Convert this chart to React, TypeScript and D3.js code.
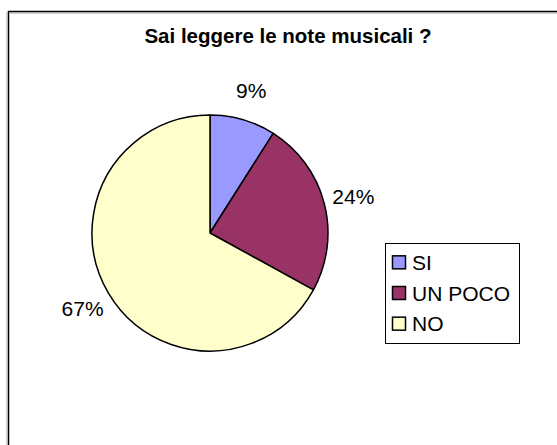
import React from "react";
import * as d3 from "d3";

const categories = ["SI", "UN POCO", "NO"];
const values = [9, 24, 67];
const labels = ["9%", "24%", "67%"];
const colors = ["#9999FF", "#993366", "#FFFFCC"];
const title = "Sai leggere le note musicali ?";

const W = 557;
const H = 445;
const FONT = "'Liberation Sans', Arial, sans-serif";

export default function App() {
  const cx = 210;
  const cy = 233;
  const r = 118;
  const labelR = 148;

  const pie = d3.pie<number>().sort(null).startAngle(0).endAngle(2 * Math.PI);
  const arcs = pie(values);
  const arc = d3.arc<d3.PieArcDatum<number>>().innerRadius(0).outerRadius(r);
  const labelArc = d3.arc<d3.PieArcDatum<number>>().innerRadius(labelR).outerRadius(labelR);

  const legendX = 385;
  const legendY = 243;
  const legendW = 134;
  const legendH = 100;
  const itemY = d3.scaleBand<string>().domain(categories).range([legendY + 4, legendY + legendH - 4]).paddingInner(0);

  return (
    <svg
      width={W}
      height={H}
      style={{ position: "absolute", left: 0, top: 0, background: "#fff" }}
      fontFamily={FONT}
    >
      <rect x={0} y={0} width={W} height={H} fill="#fff" />
      {/* chart area border, extends beyond the picture */}
      <rect x={8.5} y={11.5} width={700} height={600} fill="none" stroke="#000" strokeWidth={1.5} />
      <line x1={10} y1={13} x2={W} y2={13} stroke="#999" strokeWidth={1} />
      <line x1={7} y1={12} x2={7} y2={H} stroke="#aaa" strokeWidth={1} />

      <text x={288} y={43} textAnchor="middle" fontWeight="bold" fontSize={20.5} fill="#000">
        {title}
      </text>

      <g transform={`translate(${cx},${cy})`}>
        {arcs.map((a, i) => (
          <path key={i} d={arc(a) || ""} fill={colors[i]} stroke="#000" strokeWidth={1.5} strokeLinejoin="round" />
        ))}
        {arcs.map((a, i) => {
          const [lx, ly] = labelArc.centroid(a);
          return (
            <text key={i} x={lx} y={ly} textAnchor="middle" dominantBaseline="central" fontSize={21} fill="#000">
              {labels[i]}
            </text>
          );
        })}
      </g>

      <rect x={legendX + 0.5} y={legendY + 0.5} width={legendW} height={legendH} fill="#fff" stroke="#000" strokeWidth={1} />
      {categories.map((c, i) => {
        const y = (itemY(c) || 0) + itemY.bandwidth() / 2;
        return (
          <g key={c}>
            <rect x={legendX + 7.5} y={y - 6.5} width={13} height={13} fill={colors[i]} stroke="#000" strokeWidth={1.5} />
            <text x={legendX + 27} y={y} dominantBaseline="central" fontSize={21} fill="#000">
              {c}
            </text>
          </g>
        );
      })}
    </svg>
  );
}
